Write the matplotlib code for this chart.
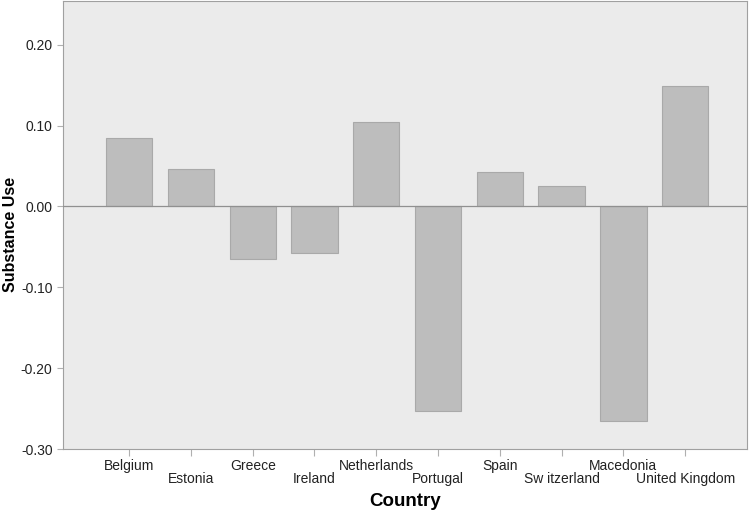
import matplotlib
matplotlib.use("Agg")
import matplotlib.pyplot as plt

countries = ["Belgium", "Estonia", "Greece", "Ireland", "Netherlands", "Portugal",
             "Spain", "Sw itzerland", "Macedonia", "United Kingdom"]
substance_use = [0.084, 0.046, -0.065, -0.057, 0.105, -0.253, 0.043, 0.025, -0.265, 0.149]
y_ticks = [0.20, 0.10, 0.00, -0.10, -0.20, -0.30]

plt.rcParams["font.family"] = ["Liberation Sans", "DejaVu Sans"]

BG = "#ebebeb"
BAR = "#bdbdbd"
EDGE = "#a9a9a9"
SPINE = "#a0a0a0"

fig = plt.figure(figsize=(7.5, 5.12), dpi=100)
ax = fig.add_axes([0.084, 0.123, 0.912, 0.875])
ax.set_facecolor(BG)

x = list(range(len(countries)))
ax.bar(x, substance_use, width=0.75, color=BAR, edgecolor=EDGE, linewidth=0.8, zorder=2)
ax.axhline(0, color="#909090", linewidth=0.9, zorder=3)

ax.set_xlim(-1.07, 10.0)
ax.set_ylim(-0.30, 0.254)
ax.set_yticks(y_ticks)
ax.set_yticklabels([f"{v:.2f}" for v in y_ticks], fontsize=10, color="#222222")
ax.set_xticks(x)
ax.set_xticklabels(countries, fontsize=10, color="#222222")

ax.tick_params(axis="x", color="#b0b0b0", width=0.8, length=5, pad=2)
ax.tick_params(axis="y", color="#b0b0b0", width=0.8, length=4)

# staggered labels: every second label sits one line lower with a longer tick
for i, tick in enumerate(ax.xaxis.get_major_ticks()):
    if i % 2 == 1:
        tick.tick1line.set_markersize(14)
        tick.set_pad(11.5)

for side in ["left", "bottom", "right", "top"]:
    ax.spines[side].set_color(SPINE)
    ax.spines[side].set_linewidth(0.8)

ax.set_ylabel("Substance Use", fontsize=11.5, fontweight="bold")
ax.yaxis.set_label_coords(-0.066, 0.48)
ax.set_xlabel("Country", fontsize=13.5, fontweight="bold", labelpad=5)

fig.savefig("out.png", dpi=100)
